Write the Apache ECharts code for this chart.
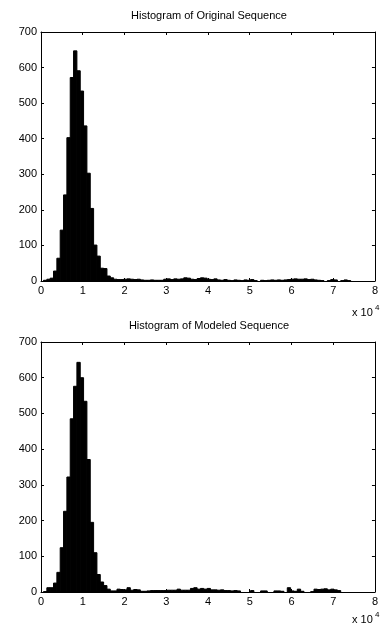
<!DOCTYPE html>
<html>
<head>
<meta charset="utf-8">
<script src="https://cdn.jsdelivr.net/npm/echarts@6/dist/echarts.min.js"></script>
<style>
  html, body { margin: 0; padding: 0; background: #fff; }
  #chart { width: 381px; height: 626px; }
</style>
</head>
<body>
<div id="chart"></div>
<script>
// histogram bins: uniform width, first edge at BIN_START
const BIN_START = 600;
const BIN_WIDTH = 800;

const xTicks = [0, 10000, 20000, 30000, 40000, 50000, 60000, 70000, 80000];
const yTicks = [0, 100, 200, 300, 400, 500, 600, 700];

const titles = ["Histogram of Original Sequence", "Histogram of Modeled Sequence"];

const originalCounts = [
  2, 5, 8, 28, 64, 143, 242, 403, 572, 647,
  591, 534, 436, 303, 204, 101, 70, 36, 35, 14,
  9, 5, 4, 4, 5, 6, 5, 4, 5, 3,
  2, 2, 3, 2, 2, 2, 5, 6, 4, 6,
  5, 6, 9, 8, 5, 4, 7, 9, 8, 5,
  4, 6, 3, 2, 4, 2, 1, 3, 2, 1,
  3, 2, 4, 1, 0, 2, 1, 2, 3, 2,
  3, 2, 3, 4, 5, 6, 5, 5, 6, 4,
  5, 3, 2, 1, 0, 1, 4, 3, 0, 1,
  3, 1
];

const modeledCounts = [
  1, 12, 12, 25, 55, 124, 226, 322, 485, 576,
  643, 600, 534, 371, 195, 110, 49, 28, 18, 8,
  3, 3, 8, 7, 6, 12, 5, 7, 6, 2,
  2, 3, 4, 4, 4, 4, 4, 5, 5, 5,
  8, 5, 5, 5, 10, 12, 8, 10, 8, 10,
  6, 6, 5, 6, 4, 4, 3, 4, 3, 0,
  0, 0, 4, 0, 0, 3, 3, 0, 0, 3,
  3, 2, 0, 12, 3, 2, 8, 2, 0, 0,
  1, 8, 7, 8, 9, 6, 8, 6, 4, 0,
  0, 0
];

const FONT = "Liberation Sans, Arial, sans-serif";
const grids = [
  { left: 41, top: 32, width: 336, height: 249 },
  { left: 41, top: 342, width: 336, height: 250 }
];
// where the "x 10^4" exponent note sits under each plot
const exponentY = [313, 620];

function toBins(counts) {
  return counts
    .map((c, k) => [BIN_START + k * BIN_WIDTH, BIN_START + (k + 1) * BIN_WIDTH, c])
    .filter((d) => d[2] > 0);
}

function renderBar(params, api) {
  const top = api.coord([api.value(0), api.value(2)]);
  const bottom = api.coord([api.value(1), 0]);
  return {
    type: "rect",
    shape: { x: top[0], y: top[1], width: bottom[0] - top[0], height: bottom[1] - top[1] },
    style: { fill: "#000", stroke: "#000", lineWidth: 1 }
  };
}

function xAxisFor(gridIndex, position) {
  return {
    type: "value",
    gridIndex,
    position,
    min: xTicks[0],
    max: xTicks[xTicks.length - 1],
    interval: xTicks[1] - xTicks[0],
    splitLine: { show: false },
    axisLine: { show: true, onZero: false, lineStyle: { color: "#000", width: 1 } },
    axisTick: { show: true, inside: true, length: 3, lineStyle: { color: "#000" } },
    axisLabel: {
      show: position === "bottom",
      margin: 4,
      fontSize: 11,
      fontFamily: FONT,
      color: "#000",
      showMinLabel: true,
      showMaxLabel: true,
      formatter: (v) => String(v / 10000)
    }
  };
}

function yAxisFor(gridIndex, position) {
  return {
    type: "value",
    gridIndex,
    position,
    min: yTicks[0],
    max: yTicks[yTicks.length - 1],
    interval: yTicks[1] - yTicks[0],
    splitLine: { show: false },
    axisLine: { show: true, onZero: false, lineStyle: { color: "#000", width: 1 } },
    axisTick: { show: true, inside: true, length: 3, lineStyle: { color: "#000" } },
    axisLabel: {
      show: position === "left",
      margin: 4,
      fontSize: 11,
      fontFamily: FONT,
      color: "#000",
      showMinLabel: true,
      showMaxLabel: true
    }
  };
}

const chart = echarts.init(document.getElementById("chart"));

const xAxes = [];
const yAxes = [];
grids.forEach((g, i) => {
  xAxes.push(xAxisFor(i, "bottom"), xAxisFor(i, "top"));
  yAxes.push(yAxisFor(i, "left"), yAxisFor(i, "right"));
});

const graphics = [];
grids.forEach((g, i) => {
  graphics.push({
    type: "text",
    x: g.left + g.width / 2,
    y: g.top - 16,
    style: { text: titles[i], align: "center", verticalAlign: "middle", font: "11px " + FONT, fill: "#000" }
  });
  graphics.push({
    type: "text",
    x: 352,
    y: exponentY[i],
    style: { text: "x 10", align: "left", verticalAlign: "middle", font: "11px " + FONT, fill: "#000" }
  });
  graphics.push({
    type: "text",
    x: 375,
    y: exponentY[i] - 5,
    style: { text: "4", align: "left", verticalAlign: "middle", font: "8px " + FONT, fill: "#000" }
  });
});

chart.setOption({
  animation: false,
  backgroundColor: "#fff",
  grid: grids,
  xAxis: xAxes,
  yAxis: yAxes,
  graphic: graphics,
  series: [
    {
      type: "custom",
      xAxisIndex: 0,
      yAxisIndex: 0,
      renderItem: renderBar,
      encode: { x: [0, 1], y: 2 },
      data: toBins(originalCounts)
    },
    {
      type: "custom",
      xAxisIndex: 2,
      yAxisIndex: 2,
      renderItem: renderBar,
      encode: { x: [0, 1], y: 2 },
      data: toBins(modeledCounts)
    }
  ]
});
</script>
</body>
</html>
